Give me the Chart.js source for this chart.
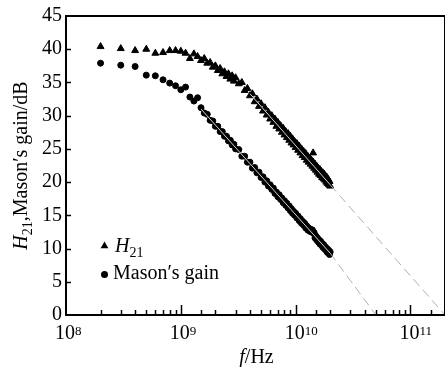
<!DOCTYPE html>
<html>
<head>
<meta charset="utf-8">
<script src="https://cdn.jsdelivr.net/npm/chart.js@4.4.1/dist/chart.umd.min.js"></script>
<style>
  html, body { margin: 0; padding: 0; background: #fff; }
  #wrap { width: 446px; height: 367px; }
</style>
</head>
<body>
<div id="wrap"><canvas id="gainChart" width="446" height="367"></canvas></div>
<script>
const h21Freq = [0.2, 0.3, 0.4, 0.5, 0.6, 0.7, 0.8, 0.9,
  1.0, 1.1, 1.2, 1.3, 1.4, 1.5, 1.6, 1.7, 1.8, 1.9, 2.0, 2.1, 2.2, 2.3, 2.4, 2.5, 2.6, 2.7, 2.8, 2.9, 3.0,
  3.2, 3.4, 3.6, 3.8, 4.0, 4.2, 4.4, 4.6, 4.8, 5.0, 5.2, 5.4, 5.6, 5.8, 6.0, 6.2, 6.4, 6.6, 6.8, 7.0,
  7.2, 7.4, 7.6, 7.8, 8.0, 8.2, 8.4, 8.6, 8.8, 9.0, 9.2, 9.4, 9.6, 9.8, 10,
  10.25, 10.5, 10.75, 11, 11.25, 11.5, 11.75, 12, 12.25, 12.5, 12.75, 13, 13.25, 13.5, 13.75, 14, 14.2,
  14.25, 14.5, 14.75, 15, 15.25, 15.5, 15.75, 16, 16.25, 16.5, 16.75, 17, 17.25, 17.5, 17.75, 18,
  18.25, 18.5, 18.75, 19, 19.25, 19.5, 19.75, 20];
const h21Gain = [40.4, 40.1, 39.8, 40.0, 39.4, 39.5, 39.8, 39.8,
  39.7, 39.4, 38.6, 39.3, 38.9, 38.3, 38.6, 37.9, 38.0, 37.3, 37.5, 36.8, 37.1, 36.3, 36.6, 35.9, 36.3, 35.5, 36.0, 35.2, 35.7,
  34.8, 35.0, 33.8, 34.1, 33.0, 33.3, 32.1, 32.5, 31.4, 31.8, 30.7, 31.2, 30.1, 30.5, 29.5, 30.0, 29.0, 29.5, 28.4, 29.0,
  28.0, 28.5, 27.5, 28.1, 27.1, 27.6, 26.7, 27.3, 26.3, 26.9, 25.9, 26.5, 25.6, 26.1, 25.2,
  25.8, 24.8, 25.4, 24.4, 25.0, 24.0, 24.6, 23.7, 24.3, 23.3, 23.9, 23.0, 23.6, 22.7, 23.3, 22.4, 24.4,
  23.0, 22.1, 22.7, 21.8, 22.4, 21.5, 22.1, 21.2, 21.9, 21.0, 21.6, 20.7, 21.4, 20.5, 21.2, 20.3,
  20.9, 20.0, 20.7, 19.8, 20.4, 19.6, 20.1, 19.4];

const masonFreq = [0.2, 0.3, 0.4, 0.5, 0.6, 0.7, 0.8, 0.9, 1.0, 1.1, 1.2, 1.3, 1.4,
  1.5, 1.6, 1.7, 1.8, 1.9, 2.0, 2.1, 2.2, 2.3, 2.4, 2.5, 2.6, 2.7, 2.8, 2.9, 3.0,
  3.2, 3.4, 3.6, 3.8, 4.0, 4.2, 4.4, 4.6, 4.8, 5.0, 5.2, 5.4, 5.6, 5.8, 6.0, 6.2, 6.4, 6.6, 6.8, 7.0,
  7.2, 7.4, 7.6, 7.8, 8.0, 8.2, 8.4, 8.6, 8.8, 9.0, 9.2, 9.4, 9.6, 9.8, 10,
  10.25, 10.5, 10.75, 11, 11.25, 11.5, 11.75, 12, 12.25, 12.5, 12.75, 13, 13.25, 13.5, 13.75, 14,
  14.25, 14.5, 14.75, 15, 15.25, 15.5, 15.75, 16, 16.25, 16.5, 16.75, 17, 17.25, 17.5, 17.75, 18,
  18.25, 18.5, 18.75, 19, 19.25, 19.5, 19.75, 20];
const masonGain = [37.9, 37.6, 37.4, 36.1, 36.0, 35.4, 34.9, 34.5, 33.9, 34.3, 32.8, 32.2, 32.7,
  31.2, 30.4, 30.2, 29.3, 29.2, 28.4, 28.4, 27.6, 27.6, 26.9, 26.9, 26.2, 26.3, 25.6, 25.7, 25.0,
  24.9, 23.9, 23.9, 23.0, 23.0, 22.1, 22.2, 21.4, 21.5, 20.7, 20.8, 20.0, 20.2, 19.4, 19.6, 18.9, 19.1, 18.3, 18.5, 17.8,
  18.1, 17.4, 17.6, 16.9, 17.2, 16.5, 16.8, 16.1, 16.4, 15.7, 16.0, 15.3, 15.6, 15.0, 15.3,
  14.6, 14.9, 14.2, 14.5, 13.8, 14.1, 13.5, 13.8, 13.1, 13.4, 12.8, 13.1, 12.6, 12.9, 12.5, 12.8,
  12.3, 12.4, 11.6, 11.9, 11.3, 11.6, 11.0, 11.3, 10.7, 11.1, 10.5, 10.8, 10.2, 10.6, 10.0, 10.3,
  9.8, 10.1, 9.5, 9.9, 9.3, 9.7, 9.1, 9.5];

// fitted lines: solid over the data, dashed extrapolation down to 0 dB
const h21FitFreq = [4, 20];
const h21FitGain = [33.3, 19.6];
const h21ExtFreq = [20, 200];
const h21ExtGain = [19.6, 0];
const masonFitFreq = [1.5, 20];
const masonFitGain = [31.0, 9.3];
const masonExtFreq = [20, 50];
const masonExtGain = [9.3, 0];

// axis ticks
const xDecades = [8, 9, 10, 11];
const yTickValues = [0, 5, 10, 15, 20, 25, 30, 35, 40, 45];

const serif = "'Liberation Serif', 'Times New Roman', serif";

const toPoints = (freq, gain) => freq.map((f, i) => ({ x: f * 1e9, y: gain[i] }));

// frame, inward ticks, superscript labels, axis titles and legend
const decorPlugin = {
  id: 'decor',
  afterDraw(chart) {
    const { ctx, chartArea: a, scales: { x, y } } = chart;
    ctx.save();
    ctx.strokeStyle = '#000';
    ctx.fillStyle = '#000';

    // x ticks (log minor + major), pointing inwards
    ctx.lineWidth = 1.5;
    x.ticks.forEach(t => {
      const px = Math.round(x.getPixelForValue(t.value)) + 0.5;
      if (px <= a.left + 2 || px >= a.right - 2) return;
      const e = Math.log10(t.value);
      const major = Math.abs(e - Math.round(e)) < 1e-6;
      ctx.beginPath();
      ctx.moveTo(px, a.bottom);
      ctx.lineTo(px, a.bottom - (major ? 10 : 5));
      ctx.stroke();
    });
    yTickValues.forEach(v => {
      const py = Math.round(y.getPixelForValue(v)) + 0.5;
      if (py >= a.bottom - 2 || py <= a.top + 2) return;
      ctx.beginPath();
      ctx.moveTo(a.left, py);
      ctx.lineTo(a.left + 5, py);
      ctx.stroke();
    });

    // frame
    ctx.lineWidth = 2;
    ctx.beginPath();
    ctx.moveTo(a.right, a.top);
    ctx.lineTo(a.left, a.top);
    ctx.lineTo(a.left, a.bottom);
    ctx.lineTo(a.right, a.bottom);
    ctx.stroke();
    ctx.lineWidth = 1;
    ctx.beginPath();
    ctx.moveTo(a.right - 0.5, a.top);
    ctx.lineTo(a.right - 0.5, a.bottom);
    ctx.stroke();

    // x tick labels 10^n
    ctx.textBaseline = 'alphabetic';
    xDecades.forEach(n => {
      const px = x.getPixelForValue(Math.pow(10, n));
      ctx.font = '20px ' + serif;
      ctx.textAlign = 'left';
      const w = ctx.measureText('10').width;
      const x0 = px - w / 2 - 1;
      ctx.fillText('10', x0, 339);
      ctx.font = '13px ' + serif;
      ctx.fillText(String(n), x0 + w, 335);
    });

    // x title: f/Hz
    ctx.font = 'italic 20px ' + serif;
    const fW = ctx.measureText('f').width;
    ctx.font = '20px ' + serif;
    const hzW = ctx.measureText('/Hz').width;
    const cx = (a.left + a.right) / 2 + 1;
    const tx = cx - (fW + hzW) / 2;
    ctx.font = 'italic 20px ' + serif;
    ctx.fillText('f', tx, 363);
    ctx.font = '20px ' + serif;
    ctx.fillText('/Hz', tx + fW, 363);

    // y title: H21,Mason′s gain/dB (rotated)
    const parts = [
      { t: 'H', f: 'italic 20px ' + serif, dy: 0 },
      { t: '21', f: '14px ' + serif, dy: 5 },
      { t: ',Mason\u2032s gain/dB', f: '20px ' + serif, dy: 0 }
    ];
    let total = 0;
    parts.forEach(p => { ctx.font = p.f; p.w = ctx.measureText(p.t).width; total += p.w; });
    ctx.save();
    ctx.translate(27, (a.top + a.bottom) / 2);
    ctx.rotate(-Math.PI / 2);
    let ox = -total / 2;
    parts.forEach(p => {
      ctx.font = p.f;
      ctx.fillText(p.t, ox, p.dy);
      ox += p.w;
    });
    ctx.restore();

    // legend
    const lx = 104.5;
    const r = 4.5;
    ctx.beginPath();
    ctx.moveTo(lx, 246 - r);
    ctx.lineTo(lx + r * Math.sin(Math.PI * 2 / 3), 246 - r * Math.cos(Math.PI * 2 / 3));
    ctx.lineTo(lx + r * Math.sin(Math.PI * 4 / 3), 246 - r * Math.cos(Math.PI * 4 / 3));
    ctx.closePath();
    ctx.fill();
    ctx.beginPath();
    ctx.arc(lx, 274.5, 3.5, 0, Math.PI * 2);
    ctx.fill();

    ctx.font = 'italic 20px ' + serif;
    ctx.fillText('H', 115, 252);
    const hW = ctx.measureText('H').width;
    ctx.font = '14px ' + serif;
    ctx.fillText('21', 115 + hW, 257);
    ctx.font = '20px ' + serif;
    ctx.fillText('Mason\u2032s gain', 113, 278.5);

    ctx.restore();
  }
};

const ctx = document.getElementById('gainChart').getContext('2d');
new Chart(ctx, {
  type: 'scatter',
  data: {
    datasets: [
      {
        label: 'H21 fit',
        data: toPoints(h21FitFreq, h21FitGain),
        showLine: true, borderColor: '#d4d4d4', borderWidth: 1, pointRadius: 0, order: 0
      },
      {
        label: 'H21 extrapolation',
        data: toPoints(h21ExtFreq, h21ExtGain),
        showLine: true, borderColor: '#b0b0b0', borderWidth: 1, borderDash: [9, 5], pointRadius: 0, order: 0
      },
      {
        label: 'Mason fit',
        data: toPoints(masonFitFreq, masonFitGain),
        showLine: true, borderColor: '#d4d4d4', borderWidth: 1, pointRadius: 0, order: 0
      },
      {
        label: 'Mason extrapolation',
        data: toPoints(masonExtFreq, masonExtGain),
        showLine: true, borderColor: '#b0b0b0', borderWidth: 1, borderDash: [9, 5], pointRadius: 0, order: 0
      },
      {
        label: 'H21',
        data: toPoints(h21Freq, h21Gain),
        pointStyle: 'triangle', pointRadius: 4, borderWidth: 1,
        backgroundColor: '#000', borderColor: '#000', order: 1
      },
      {
        label: 'Mason\u2032s gain',
        data: toPoints(masonFreq, masonGain),
        pointStyle: 'circle', pointRadius: 3, borderWidth: 1,
        backgroundColor: '#000', borderColor: '#000', order: 1
      }
    ]
  },
  options: {
    responsive: false,
    animation: false,
    devicePixelRatio: 1,
    layout: { autoPadding: false, padding: { left: 0, top: 16, right: 1, bottom: 0 } },
    plugins: {
      legend: { display: false },
      tooltip: { enabled: false }
    },
    scales: {
      x: {
        type: 'logarithmic',
        min: 1e8,
        max: 2e11,
        grid: { display: false },
        border: { display: false },
        ticks: { display: false },
        afterFit: scale => { scale.height = 52; }
      },
      y: {
        min: 0,
        max: 45,
        grid: { display: false, drawTicks: false },
        border: { display: false },
        afterBuildTicks: scale => { scale.ticks = yTickValues.map(v => ({ value: v })); },
        ticks: {
          color: '#000',
          padding: 4,
          font: { family: serif, size: 20 }
        },
        afterFit: scale => { scale.width = 66; }
      }
    }
  },
  plugins: [decorPlugin]
});
</script>
</body>
</html>
